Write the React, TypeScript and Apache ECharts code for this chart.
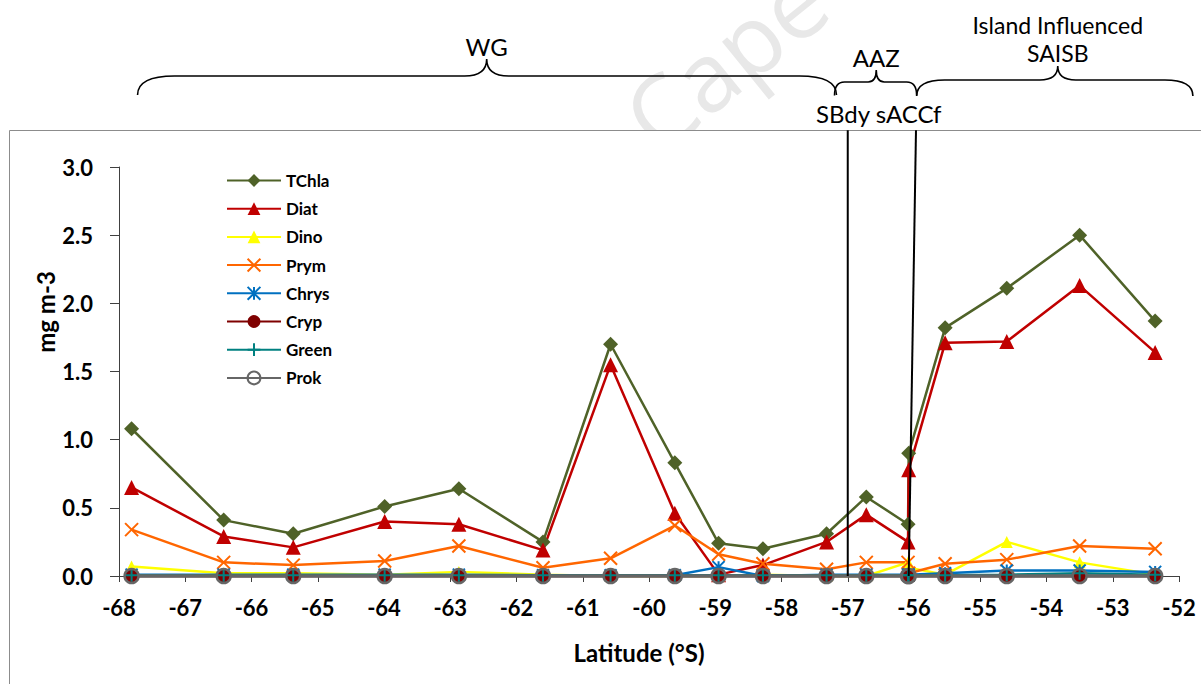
import { useEffect, useRef } from "react";
import * as echarts from "echarts";

// ---------- data ----------
const latitude = [-67.81, -66.42, -65.37, -63.99, -62.87, -61.6, -60.58, -59.61, -58.95, -58.28, -57.32, -56.72, -56.09, -56.08, -55.53, -54.6, -53.5, -52.36];
const tchla = [1.08, 0.41, 0.31, 0.51, 0.64, 0.25, 1.7, 0.83, 0.24, 0.2, 0.31, 0.58, 0.38, 0.9, 1.82, 2.11, 2.5, 1.87];
const diat = [0.65, 0.29, 0.21, 0.4, 0.38, 0.19, 1.55, 0.46, 0.01, 0.08, 0.25, 0.45, 0.25, 0.78, 1.71, 1.72, 2.13, 1.64];
const dino = [0.07, 0.02, 0.02, 0.01, 0.03, 0.01, 0.0, 0.0, 0.0, 0.01, 0.0, 0.0, 0.1, 0.06, 0.01, 0.25, 0.1, 0.01];
const prym = [0.34, 0.1, 0.08, 0.11, 0.22, 0.06, 0.13, 0.37, 0.16, 0.09, 0.05, 0.1, 0.1, 0.02, 0.09, 0.12, 0.22, 0.2];
const chrys = [0.01, 0.01, 0.01, 0.01, 0.01, 0.005, 0.005, 0.005, 0.065, 0.0, 0.01, 0.01, 0.01, 0.01, 0.02, 0.04, 0.04, 0.03];
const cryp = [0, 0, 0, 0, 0, 0, 0, 0, 0, 0, 0, 0, 0, 0, 0, 0, 0, 0];
const green = [0.005, 0.005, 0.005, 0.005, 0.005, 0.005, 0.005, 0.005, 0.005, 0.005, 0.005, 0.005, 0.005, 0.005, 0.005, 0.01, 0.02, 0.01];
const prok = [0, 0, 0, 0, 0, 0, 0, 0, 0, 0, 0, 0, 0, 0, 0, 0, 0, 0];

const seriesNames = ["TChla", "Diat", "Dino", "Prym", "Chrys", "Cryp", "Green", "Prok"];
const seriesValues = [tchla, diat, dino, prym, chrys, cryp, green, prok];

const xMin = -68;
const xMax = -52;
const xInterval = 1;
const yMin = 0;
const yMax = 3;
const yInterval = 0.5;

// fronts (vertical lines): latitude at top of frame and at the axis
const frontNames = ["SBdy", "sACCf"];
const frontLatTop = [-57.0, -55.97];
const frontLatBottom = [-57.0, -56.08];
const frontTopValue = 3.27;

// zones (braces)
const zoneNames = [["WG"], ["AAZ"], ["Island Influenced", "SAISB"]];
const zoneFrom = [-67.72, -57.2, -55.96];
const zoneTo = [-57.17, -55.96, -51.79];
const zoneTip = [-62.45, -56.57, -53.83];

// ---------- styles ----------
const colors = ["#4F6228", "#C00000", "#FFFF00", "#FF6600", "#0070C0", "#7F0000", "#008080", "#666666"];
const X_PATH = "path://M0,0L10,10M10,0L0,10";
const STAR_PATH = "path://M5,0L5,10M0,0L10,10M10,0L0,10";
const PLUS_PATH = "path://M5,0L5,10M0,5L10,5";

const symbolSpec: any[] = [
  { symbol: "diamond", size: 15, item: { color: colors[0] } },
  { symbol: "triangle", size: 15, item: { color: colors[1] } },
  { symbol: "triangle", size: 12, item: { color: colors[2] } },
  { symbol: X_PATH, size: 13, item: { color: colors[3], borderColor: colors[3], borderWidth: 2 } },
  { symbol: STAR_PATH, size: 12, item: { color: colors[4], borderColor: colors[4], borderWidth: 2 } },
  { symbol: "circle", size: 14, item: { color: colors[5] } },
  { symbol: PLUS_PATH, size: 13, item: { color: colors[6], borderColor: colors[6], borderWidth: 2 } },
  { symbol: "circle", size: 14, item: { color: "rgba(0,0,0,0)", borderColor: colors[7], borderWidth: 2.5 } },
];

const BOLD = { fontFamily: "Lato", fontWeight: "bold" as const, color: "#000" };

function bracePath(x1: number, x2: number, xm: number, yE: number, yH: number, yT: number, r: number, rc: number) {
  return (
    `M${x1},${yE} Q${x1},${yH} ${x1 + r},${yH} L${xm - rc},${yH} Q${xm},${yH} ${xm},${yT} ` +
    `Q${xm},${yH} ${xm + rc},${yH} L${x2 - r},${yH} Q${x2},${yH} ${x2},${yE}`
  );
}

export default function App() {
  const ref = useRef<HTMLDivElement>(null);

  useEffect(() => {
    const chart = echarts.init(ref.current!, null, { renderer: "svg" });

    const series = seriesNames.map((name, i) => ({
      name,
      type: "line",
      data: latitude.map((lat, j) => [lat, seriesValues[i][j]]),
      symbol: symbolSpec[i].symbol,
      symbolSize: symbolSpec[i].size,
      showSymbol: true,
      clip: false,
      itemStyle: symbolSpec[i].item,
      lineStyle: { color: colors[i], width: i === 7 ? 3.5 : 2.5 },
      emphasis: { disabled: true },
    }));

    chart.setOption({
      animation: false,
      backgroundColor: "#fff",
      grid: { left: 119, right: 22, top: 167, bottom: 108 },
      legend: {
        orient: "vertical",
        left: 221,
        top: 167,
        padding: 5,
        itemWidth: 54,
        itemHeight: 16,
        itemGap: 11.2,
        data: seriesNames,
        textStyle: { ...BOLD, fontSize: 17 },
        selectedMode: false,
      },
      xAxis: {
        type: "value",
        min: xMin,
        max: xMax,
        interval: xInterval,
        z: 3,
        name: "Latitude (°S)",
        nameLocation: "middle",
        nameGap: 64,
        nameTextStyle: { ...BOLD, fontSize: 24, padding: [0, 20, 0, 0] },
        axisLine: { onZero: false, lineStyle: { color: "#404040", width: 1 } },
        axisTick: { show: true, inside: false, length: 6, lineStyle: { color: "#404040" } },
        axisLabel: { ...BOLD, fontSize: 22, margin: 20 },
        splitLine: { show: false },
      },
      yAxis: {
        type: "value",
        min: yMin,
        max: yMax,
        interval: yInterval,
        z: 3,
        axisLine: { show: true, lineStyle: { color: "#404040", width: 1 } },
        axisTick: { show: true, inside: false, length: 9, lineStyle: { color: "#404040" } },
        axisLabel: { ...BOLD, fontSize: 22, margin: 26, formatter: (v: number) => v.toFixed(1) },
        splitLine: { show: false },
      },
      series,
    });

    const px = (x: number, y: number) => chart.convertToPixel({ gridIndex: 0 }, [x, y]) as number[];
    const y0 = px(xMin, 0)[1];

    const graphics: any[] = [];
    // watermark
    graphics.push({
      type: "text",
      id: "wm",
      x: 724,
      y: 58,
      rotation: 0.68,
      z: 0,
      style: { text: "Cape", fontSize: 96, fontFamily: "Open Sans", fill: "#e8e8e8", align: "center", verticalAlign: "middle" },
    });
    // frame
    graphics.push({
      type: "rect",
      id: "frame",
      z: 1,
      shape: { x: 9.5, y: 130.5, width: 1300, height: 700 },
      style: { fill: "#fff", stroke: "#8c8c8c", lineWidth: 1 },
    });
    // y axis title
    graphics.push({
      type: "text",
      id: "ytitle",
      x: 45,
      y: 312,
      rotation: Math.PI / 2,
      z: 5,
      style: { text: "mg m-3", ...BOLD, fill: "#000", fontSize: 24, align: "center", verticalAlign: "middle" },
    });
    // fronts
    frontNames.forEach((n, i) => {
      const top = px(frontLatTop[i], frontTopValue);
      const bot = px(frontLatBottom[i], 0);
      graphics.push({
        type: "line",
        id: "front" + i,
        z: 6,
        shape: { x1: top[0], y1: top[1], x2: bot[0], y2: y0 },
        style: { stroke: "#000", lineWidth: 2 },
      });
    });
    const fx0 = px(frontLatTop[0], 0)[0];
    const fx1 = px(frontLatBottom[1], 0)[0];
    graphics.push({
      type: "text",
      id: "frontLabel",
      x: (fx0 + fx1) / 2 + 0.5,
      y: 113,
      z: 6,
      style: { text: frontNames.join(" "), fontFamily: "Lato", fontSize: 24, fill: "#000", align: "center", verticalAlign: "middle" },
    });
    // braces
    const braceY = [
      { yE: 95, yH: 76, yT: 59, r: 37, rc: 22, textY: [46] },
      { yE: 95.5, yH: 82, yT: 70, r: 10, rc: 8, textY: [57] },
      { yE: 96, yH: 80, yT: 66, r: 28, rc: 18, textY: [25, 53] },
    ];
    zoneNames.forEach((lines, i) => {
      const a = px(zoneFrom[i], 0)[0];
      const b = px(zoneTo[i], 0)[0];
      const m = px(zoneTip[i], 0)[0];
      const s = braceY[i];
      const name = "brace" + i;
      echarts.graphic.registerShape(name, echarts.graphic.extendPath(bracePath(a, b, m, s.yE, s.yH, s.yT, s.r, s.rc), {}) as any);
      graphics.push({
        type: name,
        id: name,
        x: 0,
        y: 0,
        z: 6,
        style: { fill: "none", stroke: "#000", lineWidth: 1.6 },
      });
      lines.forEach((t, k) => {
        graphics.push({
          type: "text",
          id: "zt" + i + "_" + k,
          x: m,
          y: s.textY[k],
          z: 6,
          style: { text: t, fontFamily: "Lato", fontSize: lines.length > 1 ? 23 : 24, fill: "#000", align: "center", verticalAlign: "middle" },
        });
      });
    });

    chart.setOption({ graphic: graphics });

    return () => chart.dispose();
  }, []);

  return <div ref={ref} style={{ position: "absolute", left: 0, top: 0, width: 1201, height: 684 }} />;
}
